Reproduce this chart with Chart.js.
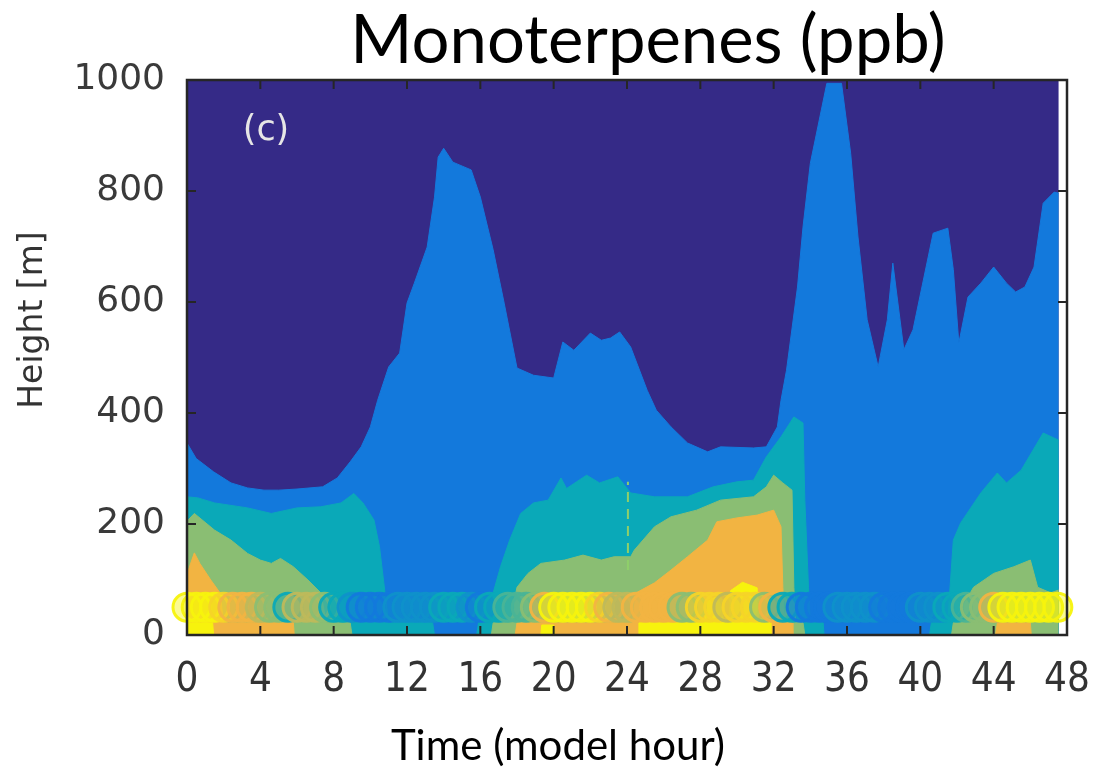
<!DOCTYPE html>
<html lang="en">
<head>
    <meta charset="UTF-8">
    <title>Monoterpenes (ppb)</title>
    <script src="https://cdn.jsdelivr.net/npm/chart.js"></script>
    <style>
        html, body { margin: 0; padding: 0; background: #fff; }
        #chart-container { width: 1097px; height: 768px; }
    </style>
</head>
<body>
    <div id="chart-container">
        <canvas id="mtChart" width="1097" height="768"></canvas>
    </div>

    <script>
        // contour layer tops: [model hour, height in m]
        const navyTop = [[0, 1000], [47.55, 1000]];

        const blueTop = [[0,346],[0.5,318],[1.45,294],[2.4,274],[3.3,265],[4.2,261],[5,261],[6,263],[7.4,267],[8.2,283],[8.9,312],[9.5,339],[10.0,375],[10.4,423],[11.0,483],[11.6,508],[12.0,598],[12.4,634],[13.1,699],[13.5,789],[13.7,861],[14.0,877],[14.5,852],[15.5,838],[16.0,789],[16.7,694],[17.3,598],[18.0,481],[18.9,468],[20.0,463],[20.5,528],[21.1,513],[22.0,544],[22.6,531],[23.1,535],[23.6,546],[24.2,519],[25.1,441],[25.6,405],[26.4,375],[27.3,346],[28.4,330],[29.1,339],[30.9,337],[31.6,339],[32.2,375],[32.4,423],[32.7,477],[33.3,627],[33.6,735],[34.0,850],[34.6,946],[34.9,994],[35.7,994],[36.2,868],[36.6,717],[37.1,568],[37.7,483],[38.2,568],[38.5,670],[39.1,514],[39.6,550],[40.2,645],[40.7,724],[41.5,733],[41.8,658],[42.1,526],[42.6,609],[43.3,634],[44.0,663],[44.7,634],[45.2,618],[45.7,627],[46.2,663],[46.7,778],[47.3,798],[47.55,796]];

        const tealTop = [[0,249],[0.6,247],[1.5,238],[3.3,229],[4.6,219],[6,229],[7.3,231],[8.4,238],[9.1,255],[9.6,238],[10.2,207],[10.5,159],[10.8,76],[11.0,22],[13.4,22],[13.5,0],[15.8,0],[15.9,22],[16.6,22],[16.7,76],[17.1,123],[17.6,171],[18.2,219],[18.9,238],[19.7,243],[20.4,283],[20.7,264],[21.8,288],[22.5,274],[23.5,285],[24.2,256],[25.5,249],[27.3,249],[28.7,267],[30.0,276],[30.9,279],[31.6,321],[32.4,357],[33.1,393],[33.6,382],[33.7,243],[33.9,86],[34.0,22],[34.7,22],[34.75,0],[40.5,0],[40.6,22],[41.5,22],[41.6,76],[41.8,171],[42.2,202],[43.3,256],[44.2,292],[44.7,274],[45.5,297],[46.7,364],[47.55,351]];

        const greenTop = [[0,205],[0.4,219],[1.5,189],[2.4,171],[3.3,147],[4.0,135],[4.6,129],[5.1,138],[5.8,123],[6.6,99],[7.3,76],[7.6,22],[8.9,22],[9.0,0],[16.6,0],[16.7,22],[17.6,22],[18.0,86],[18.6,111],[19.3,129],[20.6,135],[21.6,144],[22.6,135],[23.3,141],[24.2,141],[24.4,153],[25.5,195],[26.4,213],[27.8,225],[29.1,243],[30.9,249],[31.6,267],[32.0,288],[32.5,274],[33.0,261],[33.1,86],[33.2,22],[33.6,22],[33.7,0],[41.7,0],[41.8,22],[42.9,86],[44.0,111],[45.1,123],[46.0,135],[46.4,86],[47.1,76],[47.55,81]];

        const orangeTop = [[0,110],[0.4,148],[0.7,129],[1.3,99],[1.8,76],[2.0,22],[5.8,22],[5.85,0],[17.9,0],[18.0,22],[24.3,22],[24.5,76],[25.5,94],[26.4,117],[27.3,141],[28.4,171],[28.9,204],[30.0,211],[31.1,216],[32.0,225],[32.4,195],[32.5,86],[32.6,22],[33.0,22],[33.05,0],[44.1,0],[44.2,22],[46.0,22],[46.05,0],[47.55,0]];

        const yellowTop = [[0,22],[1.4,22],[1.45,0],[19.3,0],[19.35,18],[20.0,18],[20.05,0],[24.6,0],[24.65,22],[28.2,22],[28.25,60],[29.0,70],[29.3,22],[29.6,22],[29.65,80],[30.3,95],[31.1,85],[31.15,22],[31.8,22],[31.85,0],[47.55,0]];

        // dashed mark at hour 24
        const dashMark = [[24.05,117],[24.05,276]];

        // observations at 50 m: hour and level (1 blue .. 5 yellow)
        const obsHeight = 50;
        const obsHours = [0,0.5,1,1.5,2,2.5,3,3.5,4,4.5,5,5.5,6,6.5,7,7.5,8,8.5,9,9.5,10,10.5,11,11.5,12,12.5,13,13.5,14,14.5,15,15.5,16,16.5,17,17.5,18,18.5,19,19.5,20,20.5,21,21.5,22,22.5,23,23.5,24,24.5,25,25.5,26,26.5,27,27.5,28,28.5,29,29.5,30,30.5,31,31.5,32,32.5,33,33.5,34,34.5,35,35.5,36,36.5,37,37.5,38,38.5,39,39.5,40,40.5,41,41.5,42,42.5,43,43.5,44,44.5,45,45.5,46,46.5,47,47.5];
        const obsLevel = [5,5,5,5,4.5,4,4,4,3.5,3,3,2,3.5,3.5,3.5,3,2,2,1.5,1,1,1,1,1.5,1.5,1.5,1.5,1.5,2,2,2,1.5,1,2,2,2.5,2.5,2.5,3,4,5,5,5,5,5,4.5,4,3.5,3.5,4,4,4,4,4,3,3,4.5,4.5,4.5,3.5,4.5,4.5,4.5,3,4,2,2,1,1,1,1,1.5,1.5,1.5,1.5,1.5,1,1,1,1,1.5,1.5,1.5,2,2,2.5,3,3,4,5,5,5,5,5,5,5];

        const xTicks = [0, 4, 8, 12, 16, 20, 24, 28, 32, 36, 40, 44, 48];
        const yTicks = [0, 200, 400, 600, 800, 1000];

        // parula-like contour colours
        const palette = ['#352a87', '#1379dc', '#0aa9b8', '#8abe73', '#f2b442', '#f7f30d'];

        function hexRgb(h) {
            return [1, 3, 5].map(i => parseInt(h.slice(i, i + 2), 16));
        }
        function levelColor(lv, alpha) {
            const lo = Math.floor(lv), hi = Math.ceil(lv), t = lv - lo;
            const a = hexRgb(palette[lo]), b = hexRgb(palette[hi]);
            const c = a.map((v, i) => Math.round(v + (b[i] - v) * t));
            return `rgba(${c[0]},${c[1]},${c[2]},${alpha})`;
        }
        const toPts = arr => arr.map(p => ({ x: p[0], y: p[1] }));

        function layer(label, pts, color, order) {
            return {
                label: label,
                data: toPts(pts),
                borderColor: color,
                backgroundColor: color,
                borderWidth: 1,
                fill: 'origin',
                pointRadius: 0,
                tension: 0,
                order: order
            };
        }

        // box and inward ticks, matlab style
        const framePlugin = {
            id: 'frame',
            afterDatasetsDraw(chart) {
                const { ctx, chartArea: a, scales } = chart;
                ctx.save();
                ctx.strokeStyle = '#262626';
                ctx.lineWidth = 2.5;
                ctx.strokeRect(a.left, a.top, a.right - a.left, a.bottom - a.top);
                ctx.lineWidth = 2;
                ctx.beginPath();
                xTicks.forEach(v => {
                    const px = scales.x.getPixelForValue(v);
                    ctx.moveTo(px, a.bottom); ctx.lineTo(px, a.bottom - 9);
                    ctx.moveTo(px, a.top); ctx.lineTo(px, a.top + 9);
                });
                yTicks.forEach(v => {
                    const py = scales.y.getPixelForValue(v);
                    ctx.moveTo(a.left, py); ctx.lineTo(a.left + 9, py);
                    ctx.moveTo(a.right, py); ctx.lineTo(a.right - 9, py);
                });
                ctx.stroke();
                ctx.restore();
            },
            afterDraw(chart) {
                const ctx = chart.ctx;
                ctx.save();
                ctx.fillStyle = '#000';
                ctx.textAlign = 'center';
                ctx.textBaseline = 'alphabetic';
                ctx.font = '67px Lato, "Noto Sans", sans-serif';
                ctx.fillText('Monoterpenes (ppb)', 648, 63);
                ctx.font = '42px Lato, "Noto Sans", sans-serif';
                ctx.fillText('Time (model hour)', 558, 760);

                ctx.fillStyle = '#e6e6e6';
                ctx.font = '35px "DejaVu Sans", sans-serif';
                ctx.fillText('(c)', 266, 140);

                ctx.fillStyle = '#333';
                ctx.font = '33px "DejaVu Sans", sans-serif';
                ctx.translate(42, 320);
                ctx.rotate(-Math.PI / 2);
                ctx.fillText('Height [m]', 0, 0);
                ctx.restore();
            }
        };

        document.addEventListener('DOMContentLoaded', function () {
            const ctx = document.getElementById('mtChart').getContext('2d');
            new Chart(ctx, {
                type: 'line',
                data: {
                    datasets: [
                        {
                            label: 'obs',
                            data: obsHours.map(h => ({ x: h, y: obsHeight })),
                            showLine: false,
                            pointRadius: 14,
                            pointBorderWidth: 3,
                            pointBorderColor: obsLevel.map(l => levelColor(l, 0.95)),
                            pointBackgroundColor: obsLevel.map(l => levelColor(l, 0.45)),
                            clip: false,
                            order: 0
                        },
                        {
                            label: 'dash',
                            data: toPts(dashMark),
                            borderColor: '#8fcf6a',
                            borderWidth: 2,
                            borderDash: [10, 7],
                            pointRadius: 0,
                            fill: false,
                            order: 1
                        },
                        layer('yellow', yellowTop, palette[5], 2),
                        layer('orange', orangeTop, palette[4], 3),
                        layer('green', greenTop, palette[3], 4),
                        layer('teal', tealTop, palette[2], 5),
                        layer('blue', blueTop, palette[1], 6),
                        layer('navy', navyTop, palette[0], 7)
                    ]
                },
                options: {
                    responsive: false,
                    animation: false,
                    layout: { autoPadding: false, padding: { top: 80, right: 30, bottom: 0, left: 0 } },
                    plugins: {
                        legend: { display: false },
                        tooltip: { enabled: false }
                    },
                    scales: {
                        x: {
                            type: 'linear',
                            min: 0,
                            max: 48,
                            afterFit: s => { s.height = 133; s.paddingLeft = 0; s.paddingRight = 0; },
                            afterBuildTicks: s => { s.ticks = xTicks.map(v => ({ value: v })); },
                            grid: { display: false, drawTicks: false },
                            border: { display: false },
                            ticks: {
                                padding: 22,
                                color: '#333',
                                maxRotation: 0,
                                callback: v => String(v),
                                font: { family: '"DejaVu Sans Condensed", "Liberation Sans Narrow", "DejaVu Sans", sans-serif', size: 40 }
                            }
                        },
                        y: {
                            min: 0,
                            max: 1000,
                            afterFit: s => { s.width = 187; s.paddingTop = 0; s.paddingBottom = 0; },
                            afterBuildTicks: s => { s.ticks = yTicks.map(v => ({ value: v })); },
                            grid: { display: false, drawTicks: false },
                            border: { display: false },
                            ticks: {
                                padding: 22,
                                color: '#3a3a3a',
                                callback: v => String(v),
                                font: { family: '"DejaVu Sans", sans-serif', size: 36 }
                            }
                        }
                    }
                },
                plugins: [framePlugin]
            });
        });
    </script>
</body>
</html>
